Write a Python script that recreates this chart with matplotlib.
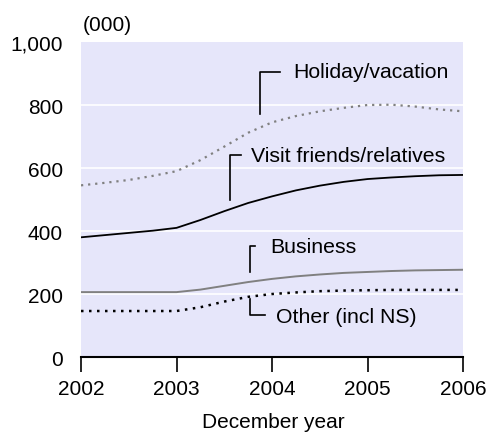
import numpy as np
import matplotlib.pyplot as plt

plt.rcParams['font.family'] = ['Liberation Sans', 'DejaVu Sans']

# quarterly points, December years 2002-2006 (000)
years = np.arange(2002, 2006.01, 0.25)
holiday = [545, 553, 562, 575, 590, 625, 668, 712, 745, 765, 780, 791, 800, 801, 795, 786, 780]
visit = [380, 387, 394, 401, 410, 435, 463, 489, 510, 529, 544, 556, 565, 570, 574, 577, 578]
business = [206, 206, 206, 206, 206, 214, 226, 238, 248, 256, 262, 267, 270, 273, 275, 276, 277]
other = [146, 146, 146, 146, 146, 158, 176, 191, 200, 205, 209, 211, 212, 213, 213, 213, 213]

xticks = [2002, 2003, 2004, 2005, 2006]
yticks = [0, 200, 400, 600, 800, 1000]
ylabels = ['0', '200', '400', '600', '800', '1,000']

fig = plt.figure(figsize=(4.88, 4.39), dpi=100)
ax = fig.add_axes([0.166, 0.1845, 0.783, 0.7175])
ax.set_facecolor('#e6e6fa')

for y in [200, 400, 600, 800]:
    ax.axhline(y, color='white', lw=1.2, zorder=1)

ax.plot(years, holiday, color='#808080', lw=1.6, ls=(0, (1, 2.2)), zorder=3)
ax.plot(years, visit, color='black', lw=1.3, zorder=3)
ax.plot(years, business, color='#808080', lw=1.4, zorder=3)
ax.plot(years, other, color='black', lw=1.8, ls=(0, (1, 2.2)), zorder=3)

# leader lines and labels
def leader(x, y0, y1, x1):
    ax.plot([x, x, x1], [y0, y1, y1], color='black', lw=1.2, zorder=4)

leader(2003.87, 770, 905, 2004.08)
ax.text(2004.22, 905, 'Holiday/vacation', fontsize=15.3, va='center')
leader(2003.56, 498, 641, 2003.68)
ax.text(2003.78, 641, 'Visit friends/relatives', fontsize=15.3, va='center')
leader(2003.77, 270, 352, 2003.82)
ax.text(2003.98, 352, 'Business', fontsize=15.3, va='center')
leader(2003.77, 184, 133, 2003.93)
ax.text(2004.04, 130, 'Other (incl NS)', fontsize=15.3, va='center')

ax.set_xlim(2002, 2006)
ax.set_ylim(0, 1000)
ax.set_xticks(xticks)
ax.set_xticklabels([str(x) for x in xticks], fontsize=15)
ax.set_yticks(yticks)
ax.set_yticklabels(ylabels, fontsize=15)
ax.tick_params(axis='y', length=0, pad=13)
ax.tick_params(axis='x', length=11, width=1.2, direction='out', pad=5)

for s in ['top', 'right', 'left']:
    ax.spines[s].set_visible(False)
ax.spines['bottom'].set_linewidth(1.5)

fig.text(0.17, 0.943, '(000)', fontsize=15, va='center')
fig.text(0.561, 0.017, 'December year', fontsize=15, ha='center', va='bottom')

fig.savefig('out.png', dpi=100)
